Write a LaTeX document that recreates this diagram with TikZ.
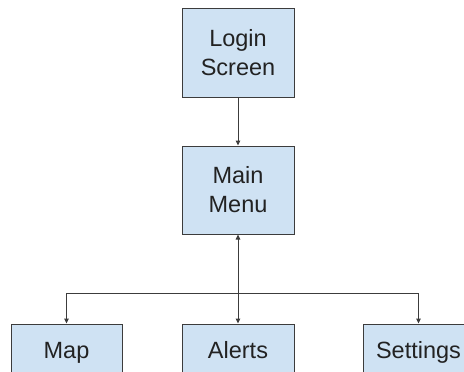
\documentclass[tikz,border=0pt]{standalone}
\usepackage{fontspec}
\setmainfont{Liberation Sans}
\usetikzlibrary{arrows.meta}
\definecolor{boxfill}{HTML}{CFE2F3}
\definecolor{boxline}{HTML}{3C3C3C}
\definecolor{txt}{HTML}{222222}
\tikzset{
  screen/.style={draw=boxline, fill=boxfill, line width=1pt, align=center,
    minimum width=112pt, text=txt, inner sep=0pt,
    font=\fontsize{23.5}{29}\selectfont},
  leaf/.style={screen, minimum height=51pt, text height=17pt, text depth=0pt},
  conn/.style={draw=boxline, line width=1pt, -{Triangle[length=5pt,width=4.5pt]}},
  biconn/.style={draw=boxline, line width=1pt, {Triangle[length=5pt,width=4.5pt]}-{Triangle[length=5pt,width=4.5pt]}}
}
\begin{document}
\begin{tikzpicture}[x=1pt,y=-1pt]
\useasboundingbox (0,0) rectangle (464,372);
\clip (0,0) rectangle (464,372);
\node[screen, minimum height=89pt] (login) at (238,52.5) {Login\\Screen};
\node[screen, minimum height=88pt] (main) at (238,190) {Main\\Menu};
\node[leaf, minimum width=111pt] (map) at (66.5,349.5) {Map};
\node[leaf] (alerts) at (238,349.5) {Alerts};
\node[leaf, minimum width=111pt] (settings) at (418.5,349.5) {Settings};
\coordinate (bus) at (238,293);
\draw[conn] (login) -- (main);
\draw[biconn] (main) -- (alerts);
\draw[biconn] (map.north) -- (map.north |- bus) -- (settings.north |- bus) -- (settings.north);
\end{tikzpicture}
\end{document}
